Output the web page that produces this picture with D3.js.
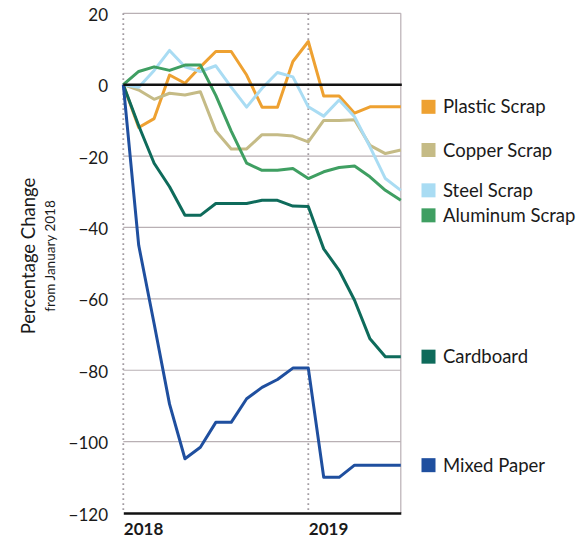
<!DOCTYPE html>
<html>
<head>
<meta charset="utf-8">
<script src="https://cdn.jsdelivr.net/npm/d3@7"></script>
<style>
  html, body { margin: 0; padding: 0; background: #ffffff; }
  svg { display: block; font-family: Lato, "Open Sans", sans-serif; }
</style>
</head>
<body>
<svg id="chart" width="587" height="542"></svg>
<script>
// Monthly percentage change from January 2018 (index 0 = Jan 2018, 18 = Jul 2019)
const months = d3.range(0, 19);
const yearTicks = [0, 12];
const yearLabels = ["2018", "2019"];
const yTicks = [20, 0, -20, -40, -60, -80, -100, -120];

const seriesNames = ["Plastic Scrap", "Copper Scrap", "Steel Scrap", "Aluminum Scrap", "Cardboard", "Mixed Paper"];
const seriesColors = ["#eea131", "#c5bb86", "#a9dcf3", "#3f9f62", "#0e6b5b", "#1f4f9f"];

const plastic  = [0, -12, -9.5, 2.7, 0.4, 5, 9.3, 9.3, 2.7, -6.3, -6.3, 6.5, 12.1, -3.2, -3.2, -8, -6.2, -6.2, -6.2];
const copper   = [0, -1.5, -4.1, -2.4, -2.9, -2, -13, -18, -18, -14, -14, -14.4, -16, -10, -10, -9.8, -17, -19.3, -18.3];
const steel    = [0, -0.7, 4, 9.6, 5, 3.7, 5.3, -0.7, -6.3, -1, 3.4, 2.2, -6.2, -8.8, -4.3, -9, -17.4, -26.3, -29.6];
const aluminum = [0, 3.7, 5, 4, 5.5, 5.5, -3, -13, -22, -24, -24, -23.5, -26.3, -24.4, -23.2, -22.8, -25.8, -29.6, -32.4];
const cardboard = [0, -11.5, -22, -28.6, -36.6, -36.6, -33.3, -33.3, -33.3, -32.4, -32.4, -34, -34.1, -46, -52, -60.4, -71.2, -76.2, -76.2];
const mixedPaper = [0, -45, -67, -89.5, -104.8, -101.6, -94.6, -94.6, -88, -84.8, -82.6, -79.4, -79.4, -110, -110, -106.6, -106.6, -106.6, -106.6];

const seriesValues = [plastic, copper, steel, aluminum, cardboard, mixedPaper];

const svg = d3.select("#chart");
const plotLeft = 123.3, plotRight = 400.8, plotTop = 13.3, plotBottom = 513;

const x = d3.scaleLinear().domain([0, 18]).range([plotLeft, plotRight]);
const y = d3.scaleLinear().domain([-120, 20]).range([plotBottom, plotTop]);

// Horizontal gridlines
svg.append("g")
  .selectAll("line")
  .data(yTicks.filter(d => d !== 0 && d !== -120))
  .join("line")
  .attr("x1", plotLeft).attr("x2", plotRight)
  .attr("y1", d => y(d)).attr("y2", d => y(d))
  .attr("stroke", "#b9b0b4").attr("stroke-width", 1.2);

// Right border
svg.append("line")
  .attr("x1", plotRight).attr("x2", plotRight)
  .attr("y1", plotTop).attr("y2", plotBottom)
  .attr("stroke", "#b9b0b4").attr("stroke-width", 1.2);

// Dotted year markers
svg.append("g")
  .selectAll("line")
  .data(yearTicks)
  .join("line")
  .attr("x1", d => x(d)).attr("x2", d => x(d))
  .attr("y1", plotTop).attr("y2", plotBottom)
  .attr("stroke", "#a29ca2").attr("stroke-width", 1.8)
  .attr("stroke-dasharray", "1.8,3.2");

// Y axis labels
const yAxis = d3.axisLeft(y).tickValues(yTicks).tickSize(0).tickPadding(0).tickFormat(d3.format("d"));
const gy = svg.append("g").attr("transform", `translate(108,0)`).call(yAxis);
gy.select(".domain").remove();
gy.selectAll("text")
  .attr("font-family", "Lato, sans-serif")
  .attr("font-size", 17)
  .attr("fill", "#1a1a1a")
  .attr("dy", "0.42em");

// Series lines
const line = d3.line().x((d, i) => x(months[i])).y(d => y(d));
svg.append("g")
  .selectAll("path")
  .data(seriesValues)
  .join("path")
  .attr("d", d => line(d))
  .attr("fill", "none")
  .attr("stroke", (d, i) => seriesColors[i])
  .attr("stroke-width", 3)
  .attr("stroke-linejoin", "round");

// Zero line and bottom axis line
svg.append("line")
  .attr("x1", plotLeft).attr("x2", plotRight + 1)
  .attr("y1", y(0)).attr("y2", y(0))
  .attr("stroke", "#111").attr("stroke-width", 2.6);

const xAxis = d3.axisBottom(x).tickValues(yearTicks).tickSize(0).tickPadding(0)
  .tickFormat((d, i) => yearLabels[i]);
const gx = svg.append("g").attr("transform", `translate(0,${plotBottom})`).call(xAxis);
gx.select(".domain").attr("stroke", "#111").attr("stroke-width", 2.4);
gx.selectAll("text")
  .attr("text-anchor", "start")
  .attr("font-family", "Lato, sans-serif")
  .attr("font-weight", "bold")
  .attr("font-size", 17)
  .attr("fill", "#1a1a1a")
  .attr("dy", "1.3em");

// Legend placed at each series' last value, nudged apart to avoid overlap
const last = seriesValues.map(v => y(v[v.length - 1]));
const legendY = [];
last.forEach((v, i) => {
  legendY.push(i === 0 ? v : Math.max(v, legendY[i - 1] + 25));
});
const legend = svg.append("g")
  .selectAll("g")
  .data(seriesNames)
  .join("g")
  .attr("transform", (d, i) => `translate(421.5,${legendY[i]})`);
legend.append("rect")
  .attr("x", 0).attr("y", -7).attr("width", 14).attr("height", 14)
  .attr("fill", (d, i) => seriesColors[i]);
legend.append("text")
  .attr("x", 21.5).attr("y", 0).attr("dy", "0.36em")
  .attr("font-size", 18.5)
  .attr("fill", "#1a1a1a")
  .text(d => d);

// Y axis title
const title = svg.append("g").attr("transform", "translate(35,256) rotate(-90)");
title.append("text")
  .attr("text-anchor", "middle")
  .attr("font-size", 18.5)
  .attr("fill", "#1a1a1a")
  .text("Percentage Change");
title.append("text")
  .attr("text-anchor", "middle")
  .attr("y", 20)
  .attr("font-size", 13.5)
  .attr("fill", "#1a1a1a")
  .text("from January 2018");
</script>
</body>
</html>
